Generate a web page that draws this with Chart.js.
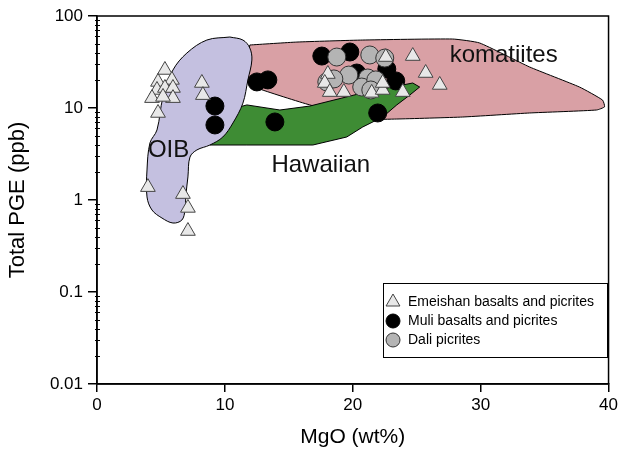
<!DOCTYPE html>
<html>
<head>
<meta charset="utf-8">
<script src="https://cdn.jsdelivr.net/npm/chart.js@4/dist/chart.umd.min.js"></script>
<style>
  html, body { margin: 0; padding: 0; background: #fff; }
  #wrap { width: 621px; height: 452px; }
</style>
</head>
<body>
<div id="wrap"><canvas id="c" width="621" height="452"></canvas></div>
<script>
// Axis tick labels
const xTickValues = [0, 10, 20, 30, 40];
const yTickValues = [0.01, 0.1, 1, 10, 100];
const yTickLabels = ['0.01', '0.1', '1', '10', '100'];

// Emeishan basalts and picrites
const emeishanMgO = [5.31, 4.77, 5.86, 4.69, 5.31, 5.94, 4.30, 5.94, 5.16, 4.77, 8.20, 8.28,
  3.98, 6.72, 7.11, 7.11,
  18.05, 17.81, 18.20, 19.30, 21.48, 22.34, 22.34, 23.91, 22.58, 24.69, 25.70, 26.80];
const emeishanPGE = [25.9, 19.2, 20.2, 15.7, 16.5, 16.5, 12.8, 12.8, 13.2, 8.83, 18.7, 13.8,
  1.38, 1.16, 0.82, 0.46,
  23.4, 18.7, 14.9, 14.9, 14.6, 15.7, 18.7, 14.9, 35.8, 36.7, 24.0, 17.8];

// Muli basalts and picrites
const muliMgO = [9.22, 9.22, 12.5, 13.36, 13.91, 17.58, 19.77, 22.66, 23.36, 21.95, 20.31];
const muliPGE = [10.5, 6.54, 19.2, 20.2, 7.05, 36.7, 40.6, 26.5, 19.7, 8.83, 24.0];

// Dali picrites
const daliMgO = [18.75, 21.33, 22.5, 19.69, 17.97, 18.52, 21.17, 20.70, 21.80, 21.41];
const daliPGE = [35.8, 37.7, 34.9, 22.8, 19.2, 20.7, 21.2, 16.9, 20.2, 15.7];

// Field outlines (MgO, total PGE)
const oibMgO = [10.39, 8.59, 7.03, 5.94, 5.16, 4.69, 4.14, 3.91, 3.91, 4.30, 5.08, 5.94, 6.64, 6.88,
  6.95, 7.11, 7.27, 7.81, 8.83, 9.84, 10.63, 11.41, 11.80, 12.11, 11.95, 11.41, 10.39];
const oibPGE = [59.1, 54.8, 39.6, 25.9, 13.2, 5.77, 4.17, 2.12, 1.08, 0.778, 0.637, 0.562, 0.606, 0.778,
  1.13, 1.78, 2.93, 3.50, 3.96, 4.84, 6.87, 11.3, 20.2, 33.2, 44.9, 54.8, 59.1];

const komatiiteMgO = [11.95, 15.63, 20.78, 27.81, 29.92, 33.83, 37.73, 39.53, 39.69, 39.06, 33.83,
  28.59, 23.44, 21.33, 16.64, 12.5, 11.56, 11.95];
const komatiitePGE = [48.4, 52.1, 54.8, 56.2, 50.9, 27.9, 16.9, 12.2, 10.3, 9.51, 8.83,
  7.98, 7.59, 7.59, 10.8, 16.5, 20.2, 48.4];

const hawaiianMgO = [8.83, 9.6, 11.72, 14.30, 16.64, 20.78, 24.69, 25.23, 24.45, 23.44, 22.34,
  20.78, 19.53, 16.88, 11.72, 8.83];
const hawaiianPGE = [3.96, 9.0, 10.8, 9.51, 10.5, 14.6, 18.7, 16.9, 13.8, 10.8, 7.98,
  6.22, 4.84, 3.96, 3.96, 3.96];

const pts = (xs, ys) => xs.map((x, i) => ({ x: x, y: ys[i] }));
const isDecade = v => Math.abs(Math.log10(v) - Math.round(Math.log10(v))) < 1e-9;

const FONT = '"Liberation Sans", Arial, Helvetica, sans-serif';

const markerStyles = {
  emeishan: { pointStyle: 'triangle', bg: '#e8e8e8', border: '#444' },
  muli: { pointStyle: 'circle', bg: '#000000', border: '#000' },
  dali: { pointStyle: 'circle', bg: '#b4b4b4', border: '#333' }
};

// Box around the plotting area plus short minor ticks on the log axis
const framePlugin = {
  id: 'frame',
  afterDraw(chart) {
    const { ctx, chartArea: a, scales } = chart;
    ctx.save();
    ctx.strokeStyle = '#000';
    ctx.lineWidth = 1.5;
    ctx.strokeRect(a.left, a.top, a.right - a.left, a.bottom - a.top);
    ctx.lineWidth = 1;
    scales.y.ticks.forEach(t => {
      if (isDecade(t.value)) return;
      const y = Math.round(scales.y.getPixelForValue(t.value)) + 0.5;
      ctx.beginPath();
      ctx.moveTo(a.left - 2, y);
      ctx.lineTo(a.left + 3, y);
      ctx.stroke();
    });
    ctx.restore();
  }
};

// Field names written inside the chart
const fieldLabelPlugin = {
  id: 'fieldLabels',
  afterDatasetsDraw(chart, args, opts) {
    const { ctx, scales } = chart;
    ctx.save();
    ctx.fillStyle = '#111';
    ctx.font = opts.size + 'px ' + FONT;
    ctx.textAlign = 'center';
    ctx.textBaseline = 'middle';
    opts.items.forEach(it => {
      ctx.fillText(it.text, scales.x.getPixelForValue(it.x), scales.y.getPixelForValue(it.y));
    });
    ctx.restore();
  }
};

// Boxed key in the lower right of the plot
const keyPlugin = {
  id: 'keyBox',
  afterDraw(chart, args, opts) {
    const { ctx } = chart;
    ctx.save();
    ctx.fillStyle = '#fff';
    ctx.fillRect(opts.left, opts.top, opts.width, opts.height);
    ctx.strokeStyle = '#000';
    ctx.lineWidth = 1;
    ctx.strokeRect(opts.left + 0.5, opts.top + 0.5, opts.width, opts.height);
    ctx.font = opts.size + 'px ' + FONT;
    ctx.textBaseline = 'middle';
    ctx.textAlign = 'left';
    opts.entries.forEach((e, i) => {
      const y = opts.top + opts.firstRow + i * opts.rowGap;
      const s = markerStyles[e.key];
      ctx.fillStyle = s.bg;
      ctx.strokeStyle = s.border;
      ctx.lineWidth = 1;
      Chart.helpers.drawPoint(ctx, { pointStyle: s.pointStyle, radius: e.r, rotation: 0, borderWidth: 1 },
        opts.left + 10, y);
      ctx.fillStyle = '#000';
      ctx.fillText(e.text, opts.left + 25, y);
    });
    ctx.restore();
  }
};

const pointSet = (label, key, xs, ys, r, order) => ({
  label: label,
  data: pts(xs, ys),
  pointStyle: markerStyles[key].pointStyle,
  backgroundColor: markerStyles[key].bg,
  borderColor: markerStyles[key].border,
  borderWidth: 1,
  pointRadius: r,
  showLine: false,
  order: order
});

const fieldSet = (label, xs, ys, fillColor, tension, order) => ({
  label: label,
  data: pts(xs, ys),
  showLine: true,
  fill: 'shape',
  backgroundColor: fillColor,
  borderColor: '#000',
  borderWidth: 1,
  pointRadius: 0,
  tension: tension,
  order: order
});

new Chart(document.getElementById('c'), {
  type: 'scatter',
  data: {
    datasets: [
      pointSet('Emeishan basalts and picrites', 'emeishan', emeishanMgO, emeishanPGE, 8.5, 0),
      pointSet('Dali picrites', 'dali', daliMgO, daliPGE, 9, 1),
      pointSet('Muli basalts and picrites', 'muli', muliMgO, muliPGE, 9, 2),
      fieldSet('OIB', oibMgO, oibPGE, '#c4c0e0', 0.35, 3),
      fieldSet('Hawaiian', hawaiianMgO, hawaiianPGE, '#3e8c34', 0, 4),
      fieldSet('komatiites', komatiiteMgO, komatiitePGE, '#d9a0a5', 0.15, 5)
    ]
  },
  options: {
    responsive: false,
    devicePixelRatio: 1,
    animation: false,
    layout: { padding: { left: 0, right: 12, top: 16, bottom: 0 } },
    plugins: {
      legend: { display: false },
      tooltip: { enabled: false },
      fieldLabels: {
        size: 24,
        items: [
          { text: 'komatiites', x: 31.8, y: 37.7 },
          { text: 'OIB', x: 5.6, y: 3.5 },
          { text: 'Hawaiian', x: 17.5, y: 2.4 }
        ]
      },
      keyBox: {
        left: 383, top: 283, width: 224, height: 74, size: 14,
        firstRow: 19, rowGap: 19,
        entries: [
          { key: 'emeishan', text: 'Emeishan basalts and picrites', r: 8 },
          { key: 'muli', text: 'Muli basalts and picrites', r: 7 },
          { key: 'dali', text: 'Dali picrites', r: 7 }
        ]
      }
    },
    scales: {
      x: {
        type: 'linear',
        min: 0, max: 40,
        afterBuildTicks: s => { s.ticks = xTickValues.map(v => ({ value: v })); },
        afterFit: s => { s.height = 68; },
        ticks: { color: '#000', font: { family: FONT, size: 17 }, padding: 3, maxRotation: 0 },
        grid: { drawOnChartArea: false, drawTicks: true, tickLength: 8, color: '#000', lineWidth: 1.5 },
        border: { display: true, color: '#000', width: 1.5 },
        title: { display: true, text: 'MgO (wt%)', color: '#000', font: { family: FONT, size: 21 }, padding: { top: 4, bottom: 2 } }
      },
      y: {
        type: 'logarithmic',
        min: 0.01, max: 100,
        afterBuildTicks: s => {
          const t = [];
          for (let e = -2; e <= 2; e++) {
            for (let m = 1; m <= 9; m++) {
              const v = m * Math.pow(10, e);
              if (v <= 100.0001) t.push({ value: +v.toPrecision(6), major: m === 1 });
            }
          }
          s.ticks = t;
        },
        afterFit: s => { s.width = 97; },
        ticks: {
          color: '#000', font: { family: FONT, size: 17 }, padding: 5, autoSkip: false,
          callback: v => {
            const i = yTickValues.findIndex(t => Math.abs(t - v) / t < 1e-6);
            return i >= 0 ? yTickLabels[i] : '';
          }
        },
        grid: {
          drawOnChartArea: false, drawTicks: true, tickLength: 9, lineWidth: 1.5,
          color: '#000',
          tickColor: c => (c.tick && isDecade(c.tick.value)) ? '#000' : 'rgba(0,0,0,0)'
        },
        border: { display: true, color: '#000', width: 1.5 },
        title: { display: true, text: 'Total PGE (ppb)', color: '#000', font: { family: FONT, size: 22 }, padding: { top: 5, bottom: 0 } }
      }
    }
  },
  plugins: [framePlugin, fieldLabelPlugin, keyPlugin]
});
</script>
</body>
</html>
